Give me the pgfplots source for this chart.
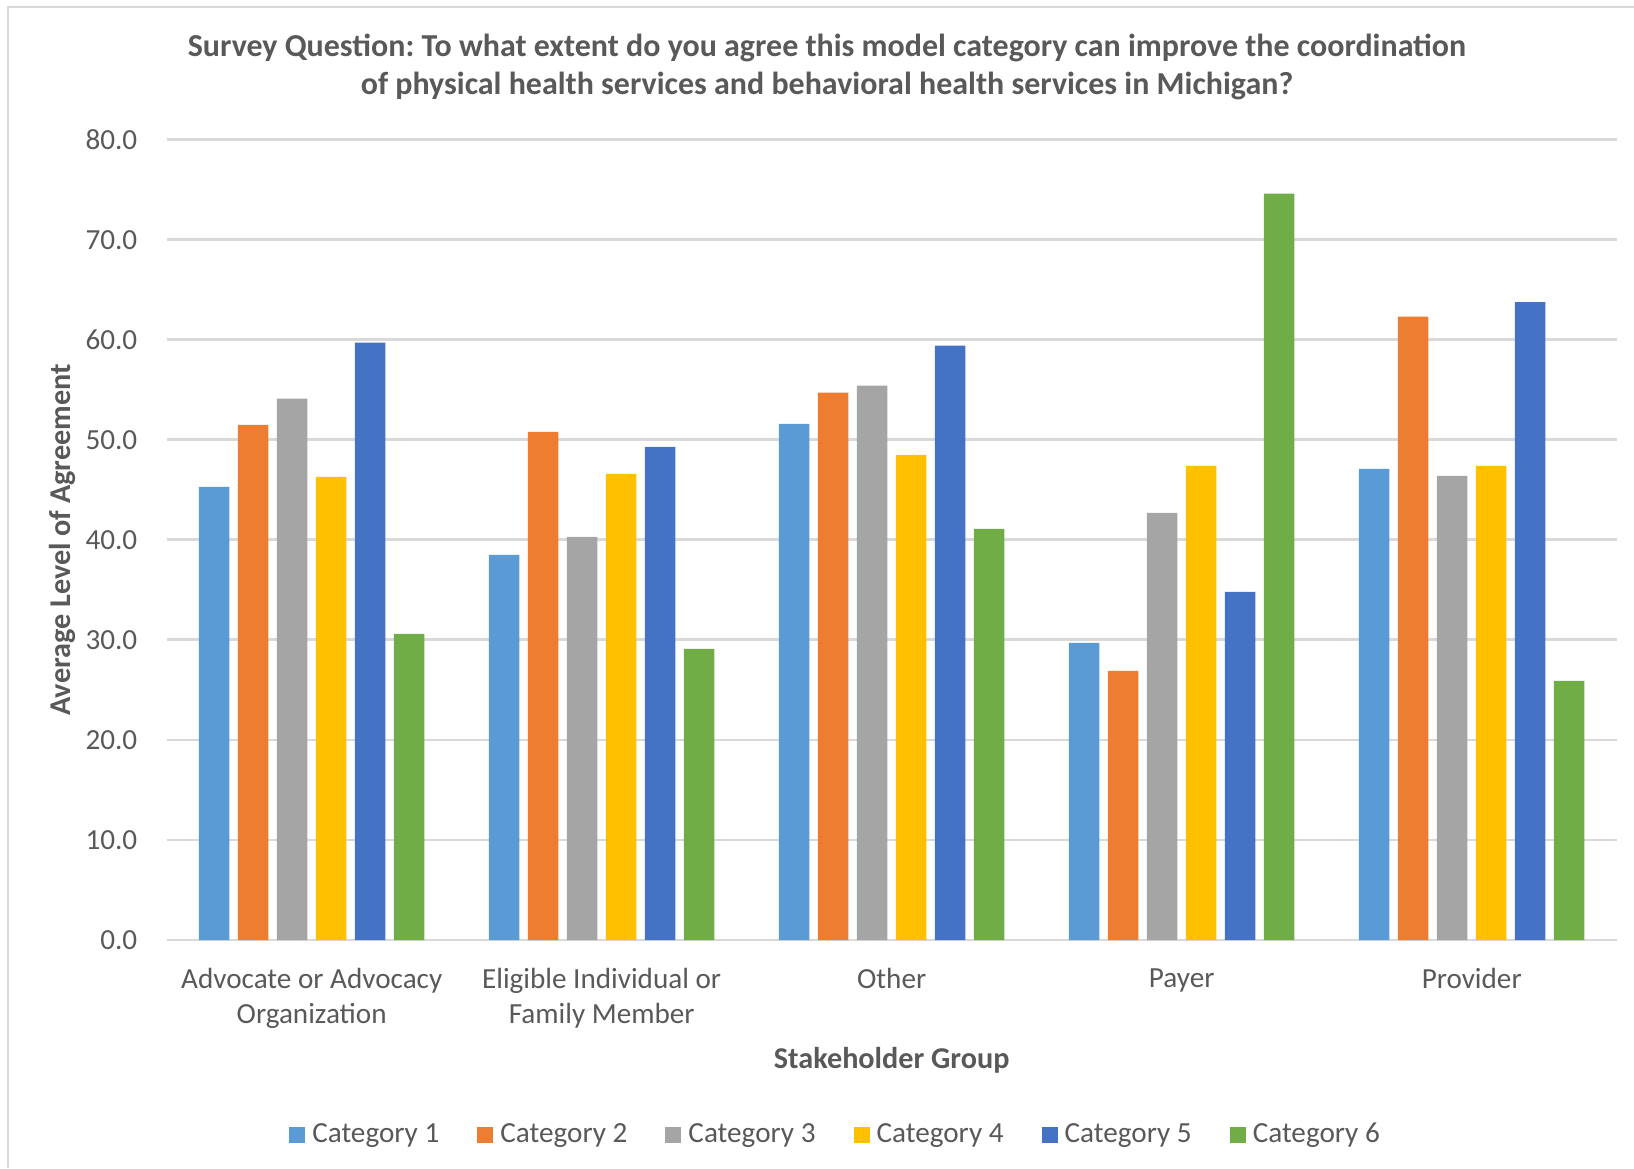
\documentclass[border=0pt]{standalone}
\usepackage{pgfplots}
\pgfplotsset{compat=1.18}
\usepackage{fontspec}
\setmainfont{Carlito}
\frenchspacing
\definecolor{txt}{HTML}{595959}
\definecolor{gridc}{HTML}{D9D9D9}
\definecolor{cA}{HTML}{5B9BD5}
\definecolor{cB}{HTML}{ED7D31}
\definecolor{cC}{HTML}{A5A5A5}
\definecolor{cD}{HTML}{FFC000}
\definecolor{cE}{HTML}{4472C4}
\definecolor{cF}{HTML}{70AD47}
\begin{document}
\begin{tikzpicture}
\path[use as bounding box] (0,0) rectangle (16.34cm,11.68cm);
\draw[gridc, line width=0.6pt] (0.08cm,0) -- (0.08cm,11.61cm) -- (16.34cm,11.61cm);
\node[text=txt, font=\fontsize{9.1}{11}\selectfont\bfseries\frenchspacing, align=center] at (8.27cm,11.20cm) {Survey Question: To what extent do you agree this model category can improve the coordination};
\node[text=txt, font=\fontsize{9.1}{11}\selectfont\bfseries, align=center] at (8.27cm,10.825cm) {of physical health services and behavioral health services in Michigan?};
\begin{axis}[
  at={(1.667cm,2.28cm)}, anchor=south west,
  scale only axis, width=14.50cm, height=8.004cm,
  ymin=0, ymax=80, xmin=-0.5, xmax=4.5,
  ybar=0.085cm, bar width=0.305cm,
  axis lines*=left,
  x axis line style={gridc, line width=0.8pt},
  y axis line style={draw=none},
  ytick={0,10,...,80}, xmajorgrids=false, ymajorgrids=true,
  major grid style={gridc, line width=0.8pt},
  xtick=data, xtick style={draw=none}, ytick style={draw=none},
  xticklabels={{Advocate or Advocacy\\Organization},{Eligible Individual or\\Family Member},Other,Payer,Provider},
  xticklabel style={align=center, text=txt, font=\fontsize{8.3}{10}\selectfont, yshift=-0.01cm},
  yticklabel style={text=txt, font=\fontsize{8.3}{10}\selectfont, xshift=-0.17cm, /pgf/number format/.cd, fixed, fixed zerofill, precision=1, assume math mode=true},
  ylabel={Average Level of Agreement},
  every axis y label/.style={at={(axis description cs:-0.072,0.5)}, rotate=90, anchor=center},
  xlabel={Stakeholder Group},
  every axis x label/.style={at={(axis description cs:0.5,-0.150)}, anchor=center},
  label style={text=txt, font=\fontsize{8.6}{10}\selectfont\bfseries},
  legend style={at={(axis description cs:0.463,-0.244)}, anchor=center, draw=none, legend columns=6,
    font=\fontsize{8.3}{10}\selectfont, text=txt,
    /tikz/every even column/.append style={column sep=0.31cm}},
  legend image code/.code={\fill[#1, draw=none] (0cm,-0.08cm) rectangle (0.16cm,0.08cm);},
]
\addplot[fill=cA, draw=none] coordinates {(0,45.3) (1,38.5) (2,51.6) (3,29.7) (4,47.1)};
\addplot[fill=cB, draw=none] coordinates {(0,51.5) (1,50.8) (2,54.7) (3,26.9) (4,62.3)};
\addplot[fill=cC, draw=none] coordinates {(0,54.1) (1,40.3) (2,55.4) (3,42.7) (4,46.4)};
\addplot[fill=cD, draw=none] coordinates {(0,46.3) (1,46.6) (2,48.5) (3,47.4) (4,47.4)};
\addplot[fill=cE, draw=none] coordinates {(0,59.7) (1,49.3) (2,59.4) (3,34.8) (4,63.75)};
\addplot[fill=cF, draw=none] coordinates {(0,30.6) (1,29.1) (2,41.1) (3,74.6) (4,25.9)};
\legend{Category 1,Category 2,Category 3,Category 4,Category 5,Category 6}
\end{axis}
\end{tikzpicture}
\end{document}
